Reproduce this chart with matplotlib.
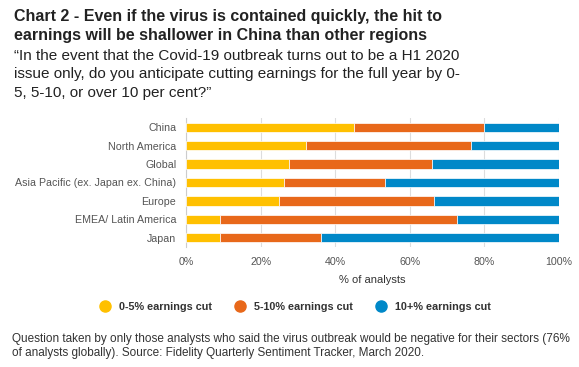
import matplotlib.pyplot as plt
import numpy as np
from matplotlib.lines import Line2D

regions = ["China", "North America", "Global", "Asia Pacific (ex. Japan ex. China)",
           "Europe", "EMEA/ Latin America", "Japan"]
cut_0_5 = [45.1, 32.1, 27.5, 26.4, 25.0, 9.0, 9.0]
cut_5_10 = [34.7, 44.2, 38.4, 26.9, 41.4, 63.6, 27.1]
cut_10_plus = [20.2, 23.7, 34.1, 46.7, 33.6, 27.4, 63.9]
series_names = ["0-5% earnings cut", "5-10% earnings cut", "10+% earnings cut"]
colors = ["#FFC000", "#E8681A", "#0088C8"]

plt.rcParams['font.family'] = ['Liberation Sans', 'DejaVu Sans']

fig = plt.figure(figsize=(5.79, 3.67), dpi=100)
ax = fig.add_axes([186 / 579, 1 - 247 / 367, (559 - 186) / 579, (247 - 118) / 367])

y = np.arange(len(regions))
left = np.zeros(len(regions))
for vals, c in zip([cut_0_5, cut_5_10, cut_10_plus], colors):
    vals = np.array(vals)
    ax.barh(y, vals, left=left, color=c, height=0.5, edgecolor="white", linewidth=0.5, zorder=3)
    left += vals

ax.set_ylim(len(regions) - 0.5, -0.5)
ax.set_xlim(0, 100)
ax.set_yticks(y)
ax.set_yticklabels(regions, fontsize=7.7, color="#555555")
ax.set_xticks(np.arange(0, 101, 20))
ax.set_xticklabels([f"{v}%" for v in range(0, 101, 20)], fontsize=7.7, color="#555555")
ax.tick_params(axis="both", length=0, pad=7)
ax.grid(axis="x", color="#dddddd", linewidth=0.8, zorder=0)
for s in ["top", "right", "bottom"]:
    ax.spines[s].set_visible(False)
ax.spines["left"].set_color("#cccccc")
ax.set_xlabel("% of analysts", fontsize=8, color="#333333", labelpad=6)

handles = [Line2D([], [], marker="o", linestyle="", markersize=8, color=c) for c in colors]
leg = fig.legend(handles, series_names, loc="center", bbox_to_anchor=(0.505, 1 - 307 / 367),
                 ncol=3, frameon=False, fontsize=7.8, handletextpad=0.3, columnspacing=1.6)
for t in leg.get_texts():
    t.set_fontweight("bold")
    t.set_color("#333333")

fig.text(14 / 579, 1 - 9 / 367,
         "Chart 2 - Even if the virus is contained quickly, the hit to\n"
         "earnings will be shallower in China than other regions",
         fontsize=11.5, fontweight="bold", va="top", ha="left", color="#222222", linespacing=1.3)
fig.text(14 / 579, 1 - 49 / 367,
         "\u201cIn the event that the Covid-19 outbreak turns out to be a H1 2020\n"
         "issue only, do you anticipate cutting earnings for the full year by 0-\n"
         "5, 5-10, or over 10 per cent?\u201d",
         fontsize=11, va="top", ha="left", color="#222222", linespacing=1.4)
fig.text(12 / 579, 1 - 333 / 367,
         "Question taken by only those analysts who said the virus outbreak would be negative for their sectors (76%\n"
         "of analysts globally). Source: Fidelity Quarterly Sentiment Tracker, March 2020.",
         fontsize=8.5, va="top", ha="left", color="#333333", linespacing=1.25)

fig.savefig("out.png", dpi=100)
